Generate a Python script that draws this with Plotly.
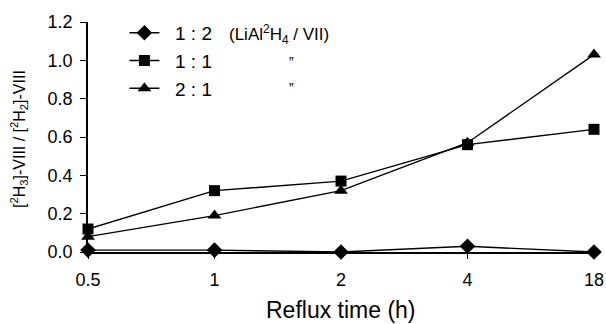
import plotly.graph_objects as go

categories = ["0.5", "1", "2", "4", "18"]
ratio_1_2 = [0.01, 0.01, 0.0, 0.03, 0.0]
ratio_1_1 = [0.12, 0.32, 0.37, 0.56, 0.64]
ratio_2_1 = [0.08, 0.19, 0.32, 0.57, 1.03]
series_names = ["1 : 2", "1 : 1", "2 : 1"]
y_ticks = [0.0, 0.2, 0.4, 0.6, 0.8, 1.0, 1.2]

FONT = "Liberation Sans, Arial, sans-serif"

fig = go.Figure()
specs = [
    (ratio_1_2, "diamond", 12),
    (ratio_1_1, "square", 11),
    (ratio_2_1, "triangle-up", 12),
]
for (vals, sym, sz), name in zip(specs, series_names):
    fig.add_trace(go.Scatter(
        x=categories, y=vals, name="\u00a0\u00a0" + name, mode="lines+markers",
        line=dict(color="black", width=1.4),
        marker=dict(symbol=sym, size=sz, color="black"),
        cliponaxis=False,
    ))

fig.update_layout(
    width=606, height=324,
    margin=dict(l=88, r=12, t=22, b=72),
    paper_bgcolor="white", plot_bgcolor="white",
    font=dict(family=FONT, color="black", size=18),
    showlegend=True,
    legend=dict(
        x=0.072, y=1.035, xanchor="left", yanchor="top",
        bgcolor="rgba(0,0,0,0)", font=dict(size=19),
        tracegroupgap=0, itemwidth=30,
    ),
    xaxis=dict(
        type="category", range=[0, 4], automargin=False,
        showline=True, linecolor="black", linewidth=2,
        ticks="outside", ticklen=5, tickcolor="black",
        showgrid=False, zeroline=False,
        tickfont=dict(size=18), ticklabelstandoff=5,
    ),
    yaxis=dict(
        range=[0, 1.2], tickvals=y_ticks, tickformat=".1f", automargin=False,
        showline=True, linecolor="black", linewidth=1.5,
        ticks="outside", ticklen=6, tickcolor="black",
        showgrid=False, zeroline=False,
        tickfont=dict(size=18), ticklabelstandoff=4,
    ),
    annotations=[
        dict(xref="paper", yref="paper", x=0.5, y=-0.25, xanchor="center", yanchor="middle",
             text="Reflux time (h)", showarrow=False, font=dict(size=23, color="black")),
        dict(xref="paper", yref="paper", x=-0.135, y=0.49, xanchor="center", yanchor="middle",
             textangle=-90,
             text="[<sup>2</sup>H<sub>3</sub>]-VIII / [<sup>2</sup>H<sub>2</sub>]-VIII",
             showarrow=False, font=dict(size=16, color="black")),
        dict(xref="paper", yref="paper", x=0.275, y=0.944, xanchor="left", yanchor="middle",
             text="(LiAl<sup>2</sup>H<sub>4</sub> / VII)", showarrow=False, font=dict(size=17, color="black")),
        dict(xref="paper", yref="paper", x=0.402, y=0.827, xanchor="center", yanchor="middle",
             text="\u201d", showarrow=False, font=dict(size=14, color="black")),
        dict(xref="paper", yref="paper", x=0.402, y=0.714, xanchor="center", yanchor="middle",
             text="\u201d", showarrow=False, font=dict(size=14, color="black")),
    ],
)

fig.write_html("out.html", config={"displayModeBar": False},
               post_script="document.body.style.margin='0';document.body.style.overflow='hidden';")
